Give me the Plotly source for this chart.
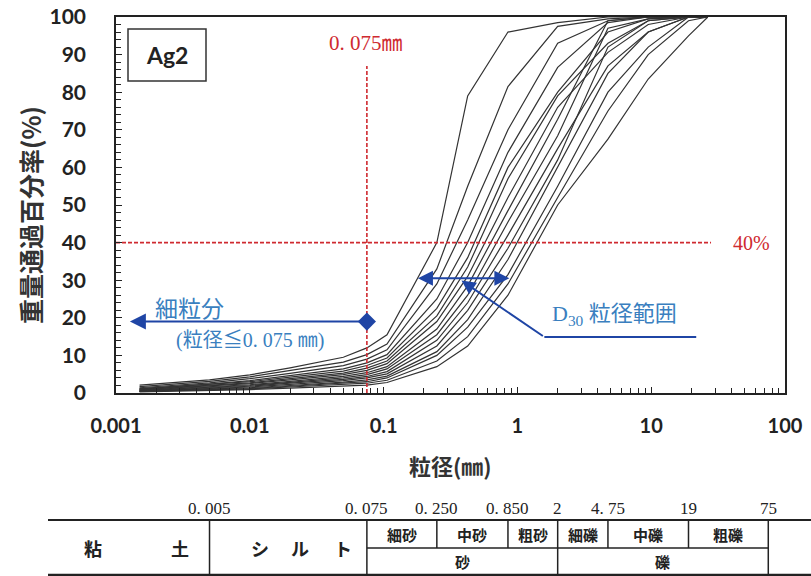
import math
import plotly.graph_objects as go

# ---------------- data ----------------
sieve_mm = [0.0015, 0.005, 0.01, 0.02, 0.05, 0.075, 0.106, 0.25, 0.425, 0.85, 2.0, 4.75, 9.5, 19.0, 26.5]

curve_01 = [2.1, 3.5, 4.8, 6.7, 9.5, 12.0, 15.5, 40.0, 79.0, 96.0, 98.5, 100, 100, 100, 100]
curve_02 = [1.7, 3.1, 4.3, 5.9, 8.2, 10.2, 13.0, 33.0, 55.0, 81.5, 97.5, 99.5, 100, 100, 100]
curve_03 = [1.4, 2.7, 3.8, 5.2, 7.3, 9.0, 11.5, 29.0, 46.0, 70.0, 93.0, 99.0, 100, 100, 100]
curve_04 = [1.2, 2.4, 3.3, 4.6, 6.4, 8.0, 10.2, 25.0, 40.0, 64.0, 86.6, 98.5, 100, 100, 100]
curve_05 = [1.1, 2.2, 3.0, 4.2, 5.8, 7.3, 9.3, 22.5, 36.0, 60.0, 80.0, 96.0, 99.5, 100, 100]
curve_06 = [1.0, 2.0, 2.7, 3.8, 5.3, 6.6, 8.5, 20.5, 33.5, 57.0, 79.0, 93.0, 99.0, 100, 100]
curve_07 = [0.9, 1.8, 2.5, 3.5, 4.9, 6.0, 7.8, 19.0, 31.0, 52.0, 76.0, 90.6, 98.0, 100, 100]
curve_08 = [0.8, 1.6, 2.2, 3.1, 4.4, 5.4, 7.0, 17.0, 28.5, 48.5, 72.8, 99.0, 100, 100, 100]
curve_09 = [0.7, 1.5, 2.0, 2.8, 4.0, 4.9, 6.4, 15.5, 26.0, 45.5, 68.4, 97.0, 99.5, 100, 100]
curve_10 = [0.6, 1.3, 1.8, 2.6, 3.6, 4.4, 5.7, 14.0, 24.0, 42.0, 65.0, 87.0, 96.0, 100, 100]
curve_11 = [0.5, 1.1, 1.6, 2.3, 3.3, 4.0, 5.1, 12.5, 22.0, 38.5, 62.0, 92.0, 99.0, 100, 100]
curve_12 = [0.5, 1.0, 1.4, 2.0, 2.9, 3.5, 4.5, 11.0, 19.5, 35.5, 60.0, 85.0, 96.0, 100, 100]
curve_13 = [0.4, 0.9, 1.2, 1.8, 2.5, 3.0, 4.0, 10.0, 17.5, 31.5, 55.0, 80.0, 92.0, 100, 100]
curve_14 = [0.4, 0.8, 1.1, 1.6, 2.2, 2.6, 3.4, 8.5, 15.0, 29.0, 52.0, 75.0, 90.0, 99.0, 100]
curve_15 = [0.3, 0.6, 0.9, 1.3, 1.8, 2.1, 2.8, 7.0, 12.5, 26.0, 50.0, 67.5, 83.5, 95.0, 100]

curves = [curve_01, curve_02, curve_03, curve_04, curve_05, curve_06, curve_07, curve_08,
          curve_09, curve_10, curve_11, curve_12, curve_13, curve_14, curve_15]

x_tick_vals = [0.001, 0.01, 0.1, 1, 10, 100]
x_tick_text = ["0.001", "0.01", "0.1", "1", "10", "100"]
y_tick_vals = [0, 10, 20, 30, 40, 50, 60, 70, 80, 90, 100]

fines_limit_mm = 0.075
ref_percent = 40
fines_arrow_pct = 19
fines_arrow_left_mm = 0.00127
d30_pct = 30.5
d30_min_mm = 0.176
d30_max_mm = 0.871

# soil classification table
class_bounds = [0.005, 0.075, 0.25, 0.85, 2, 4.75, 19, 75]
class_bound_labels = ["0. 005", "0. 075", "0. 250", "0. 850", "2", "4. 75", "19", "75"]
sub_classes = ["細砂", "中砂", "粗砂", "細礫", "中礫", "粗礫"]
main_classes = [("砂", 0.075, 2), ("礫", 2, 75)]

# ---------------- figure ----------------
W, H = 811, 576
ML, MR, MT, MB = 116, 26, 17, 183
PW, PH = W - ML - MR, H - MT - MB

def px_x(px):
    return (px - ML) / PW

def py_y(py):
    return (MT + PH - py) / PH

def val_x(v):
    return (math.log10(v) + 3) / 5

RED = "#cf2a30"
BLUE = "#1f45a5"
LBLUE = "#3a7fbf"
JP = "Noto Sans CJK JP"
SERIF = "Liberation Serif, Noto Sans CJK JP"

fig = go.Figure()
for c in curves:
    fig.add_trace(go.Scatter(x=sieve_mm, y=c, mode="lines",
                             line=dict(color="#333333", width=1.2),
                             hoverinfo="skip", showlegend=False))

# red reference lines
fig.add_trace(go.Scatter(x=[fines_limit_mm, fines_limit_mm], y=[0, 87], mode="lines",
                         line=dict(color=RED, width=1.6, dash="4px,2px"),
                         hoverinfo="skip", showlegend=False))
fig.add_trace(go.Scatter(x=[0.001, 28], y=[ref_percent, ref_percent], mode="lines",
                         line=dict(color=RED, width=1.6, dash="4px,2px"),
                         hoverinfo="skip", showlegend=False))
# leader horizontal line
fig.add_trace(go.Scatter(x=[1.59, 21.7], y=[14.9, 14.9], mode="lines",
                         line=dict(color=BLUE, width=2),
                         hoverinfo="skip", showlegend=False))
# diamond marker
fig.add_trace(go.Scatter(x=[fines_limit_mm], y=[fines_arrow_pct], mode="markers",
                         marker=dict(symbol="diamond", size=14, color=BLUE),
                         hoverinfo="skip", showlegend=False))

ann = []
lg = math.log10

def text_ann(x, y, text, font, xref="paper", yref="paper", **kw):
    d = dict(x=x, y=y, xref=xref, yref=yref, text=text, showarrow=False,
             xanchor="center", yanchor="middle", font=font)
    d.update(kw)
    ann.append(d)

# fines arrow
ann.append(dict(x=lg(fines_arrow_left_mm), y=fines_arrow_pct, ax=lg(fines_limit_mm), ay=fines_arrow_pct,
                xref="x", yref="y", axref="x", ayref="y", text="", showarrow=True,
                arrowhead=2, arrowsize=1.6, arrowwidth=2, arrowcolor=BLUE))
# D30 double arrow
ann.append(dict(x=lg(d30_max_mm), y=d30_pct, ax=lg(d30_min_mm), ay=d30_pct,
                xref="x", yref="y", axref="x", ayref="y", text="", showarrow=True,
                arrowhead=2, startarrowhead=2, arrowside="end+start", arrowsize=1.5,
                startarrowsize=1.5, arrowwidth=2, arrowcolor=BLUE))
# leader arrow
ann.append(dict(x=lg(0.382), y=29.9, ax=lg(1.59), ay=14.9,
                xref="x", yref="y", axref="x", ayref="y", text="", showarrow=True,
                arrowhead=2, arrowsize=1.4, arrowwidth=2, arrowcolor=BLUE))
# texts
text_ann(-2.448, 22.9, "細粒分", dict(family=JP, size=23, color=LBLUE), "x", "y")
text_ann(-2.0, 14.0, "(粒径≦0. 075 ㎜)", dict(family=SERIF, size=20, color=LBLUE), "x", "y")
text_ann(0.724, 20.8, "D<sub>30</sub> 粒径範囲", dict(family=SERIF, size=22, color=LBLUE), "x", "y")
text_ann(-1.134, 93, "0. 075㎜", dict(family=SERIF, size=21, color=RED), "x", "y")
text_ann(1.746, ref_percent, "40%", dict(family=SERIF, size=20, color=RED), "x", "y")
text_ann(px_x(167), py_y(55), "<b>Ag2</b>", dict(family="Lato", size=23, color="#222"))

# axis titles
text_ann(px_x(30), py_y(215), "<b>重量通過百分率(%)</b>", dict(family=JP, size=25, color="#333"), textangle=-90)
text_ann(px_x(450), py_y(465), "<b>粒径(㎜)</b>", dict(family=JP, size=22, color="#333"))

# table
shapes = []
TOP, MID, BOT = 520, 548, 575
line_style = dict(color="#222", width=1.5)
shapes.append(dict(type="line", xref="paper", yref="paper", x0=px_x(48), x1=px_x(811),
                   y0=py_y(TOP), y1=py_y(TOP), line=dict(color="#222", width=2)))
shapes.append(dict(type="line", xref="paper", yref="paper", x0=px_x(48), x1=px_x(811),
                   y0=py_y(BOT), y1=py_y(BOT), line=dict(color="#222", width=2.5)))
shapes.append(dict(type="line", xref="paper", yref="paper", x0=val_x(0.075), x1=val_x(75),
                   y0=py_y(MID), y1=py_y(MID), line=line_style))
for b in class_bounds:
    full = b in (0.005, 0.075, 2, 75)
    shapes.append(dict(type="line", xref="paper", yref="paper", x0=val_x(b), x1=val_x(b),
                       y0=py_y(TOP), y1=py_y(BOT if full else MID), line=line_style))
for b, lab in zip(class_bounds, class_bound_labels):
    text_ann(val_x(b), py_y(508), lab, dict(family=SERIF, size=17, color="#222"))
for i, lab in enumerate(sub_classes):
    a, b = class_bounds[i + 1], class_bounds[i + 2]
    xm = (val_x(a) + val_x(b)) / 2
    text_ann(xm, py_y(534), "<b>" + lab + "</b>", dict(family=JP, size=15, color="#222"))
for lab, a, b in main_classes:
    xm = (val_x(a) + val_x(b)) / 2
    text_ann(xm, py_y(561), "<b>" + lab + "</b>", dict(family=JP, size=15, color="#222"))
for ch, px in [("粘", 93), ("土", 180), ("シ", 260), ("ル", 300), ("ト", 343)]:
    text_ann(px_x(px), py_y(548), "<b>" + ch + "</b>", dict(family=JP, size=18, color="#222"))

# Ag2 box
shapes.append(dict(type="rect", xref="paper", yref="paper", x0=px_x(128), x1=px_x(206),
                   y0=py_y(81), y1=py_y(29), line=dict(color="#333", width=1.5)))

minor_x = [k * 10 ** e for e in range(-3, 2) for k in range(2, 10)]

fig.update_layout(
    width=W, height=H, margin=dict(l=ML, r=MR, t=MT, b=MB, autoexpand=False),
    plot_bgcolor="white", paper_bgcolor="white",
    showlegend=False, annotations=ann, shapes=shapes,
    xaxis=dict(type="log", range=[-3, 2], showgrid=False, zeroline=False, automargin=False,
               showline=True, linecolor="#222", linewidth=1.5, mirror=True,
               ticks="inside", ticklen=6, tickcolor="#222",
               tickvals=x_tick_vals, ticktext=x_tick_text,
               tickfont=dict(family="Lato", size=20, color="#222", weight="bold"),
               ticklabelstandoff=14,
               minor=dict(tickvals=minor_x, ticks="inside", ticklen=5, tickcolor="#222", showgrid=False)),
    yaxis=dict(range=[0, 100], showgrid=False, zeroline=False, automargin=False,
               showline=True, linecolor="#222", linewidth=1.5, mirror=True,
               ticks="inside", ticklen=6, tickcolor="#222", tickvals=y_tick_vals,
               tickfont=dict(family="Lato", size=21, color="#222", weight="bold"),
               ticklabelstandoff=24,
               minor=dict(dtick=2, ticks="inside", ticklen=5, tickcolor="#222", showgrid=False)),
)

post = ("document.body.style.margin='0';document.body.style.padding='0';"
        "document.body.style.overflow='hidden';"
        "var d=document.getElementById('{plot_id}');d.style.position='absolute';"
        "d.style.left='0px';d.style.top='0px';")
fig.write_html("out.html", post_script=post, config={"displayModeBar": False})
